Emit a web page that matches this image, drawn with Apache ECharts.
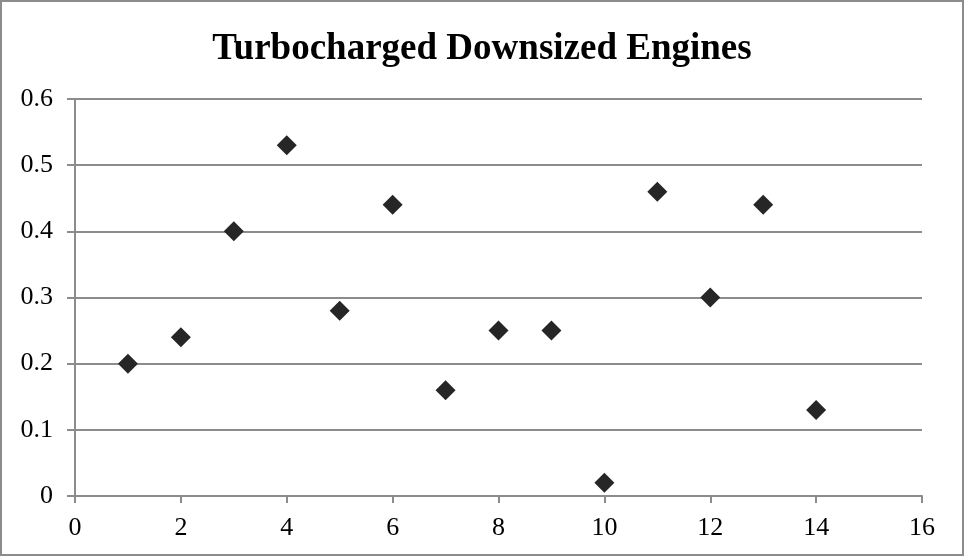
<!DOCTYPE html>
<html>
<head>
<meta charset="utf-8">
<script src="https://cdn.jsdelivr.net/npm/echarts@6/dist/echarts.min.js"></script>
<style>
  html, body { margin: 0; padding: 0; background: #fff; }
  #chart { width: 964px; height: 556px; box-sizing: border-box; border: 2px solid #8c8c8c; }
</style>
</head>
<body>
<div id="chart"></div>
<script>
  var titleText = 'Turbocharged Downsized Engines';
  var xValues = [1, 2, 3, 4, 5, 6, 7, 8, 9, 10, 11, 12, 13, 14];
  var yValues = [0.2, 0.24, 0.4, 0.53, 0.28, 0.44, 0.16, 0.25, 0.25, 0.02, 0.46, 0.3, 0.44, 0.13];

  var points = xValues.map(function (x, i) { return [x, yValues[i]]; });

  var chart = echarts.init(document.getElementById('chart'));
  var font = '"Liberation Serif", "Times New Roman", serif';

  chart.setOption({
    animation: false,
    title: {
      text: titleText,
      left: 'center',
      top: 24,
      textStyle: { fontFamily: font, fontSize: 37, fontWeight: 'bold', color: '#000' }
    },
    grid: { left: 73, right: 40, top: 97, bottom: 58 },
    xAxis: {
      type: 'value',
      min: 0, max: 16, interval: 2,
      axisLine: { lineStyle: { color: '#8c8c8c', width: 2 } },
      axisTick: { show: true, length: 7, lineStyle: { color: '#8c8c8c', width: 2 } },
      axisLabel: { fontFamily: font, fontSize: 26, color: '#000', margin: 19 },
      splitLine: { show: false }
    },
    yAxis: {
      type: 'value',
      min: 0, max: 0.6, interval: 0.1,
      axisLine: { show: true, lineStyle: { color: '#8c8c8c', width: 2 } },
      axisTick: { show: true, inside: false, length: 8, lineStyle: { color: '#8c8c8c', width: 2 } },
      axisLabel: { fontFamily: font, fontSize: 26, color: '#000', margin: 22,
        formatter: function (v) { return v === 0 ? '0' : v.toFixed(1); } },
      splitLine: { show: true, lineStyle: { color: '#8c8c8c', width: 2 } }
    },
    series: [{
      type: 'scatter',
      data: points,
      symbol: 'diamond',
      symbolSize: [20, 20],
      itemStyle: { color: '#262626', opacity: 1 }
    }]
  });
</script>
</body>
</html>
